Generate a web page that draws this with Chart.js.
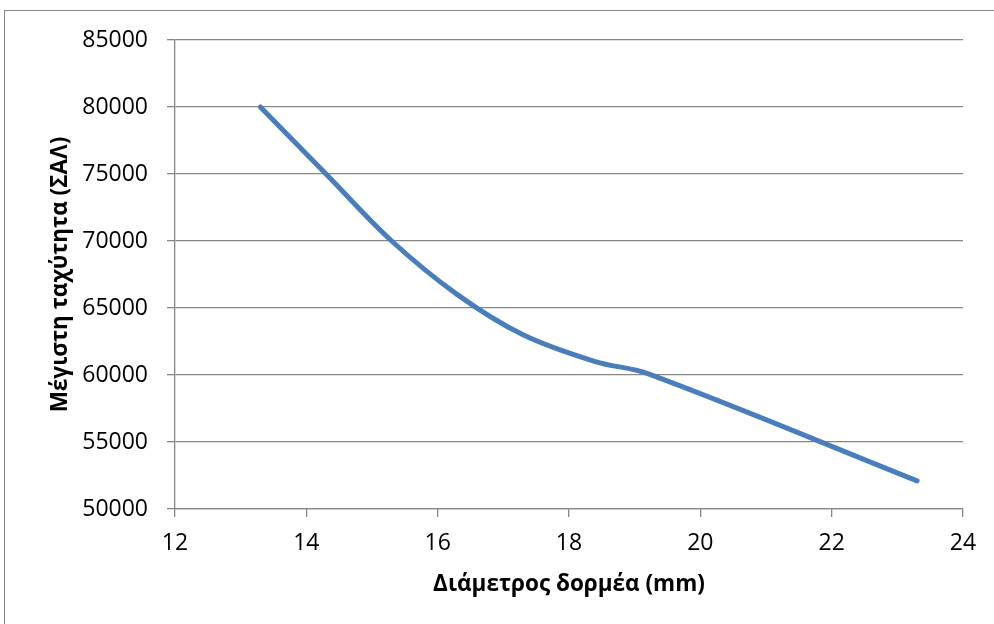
<!DOCTYPE html>
<html>
<head>
<meta charset="utf-8">
<script src="https://cdn.jsdelivr.net/npm/chart.js@4.4.1/dist/chart.umd.min.js"></script>
<style>
  html, body { margin: 0; padding: 0; background: #ffffff; }
  #frame {
    position: absolute; left: 4px; top: 10px; width: 1200px; height: 800px;
    border-left: 1px solid #868686; border-top: 1px solid #868686;
  }
  #speedChart { position: absolute; left: 0; top: 0; }
</style>
</head>
<body>
<div id="frame"></div>
<canvas id="speedChart" width="994" height="624"></canvas>
<script>
// rotor diameter (mm) and max speed (rpm)
const diameters = [13.3, 14.3, 15.3, 16.3, 17.3, 18.4, 19.2, 23.3];
const maxSpeeds = [80000, 75000, 70000, 66000, 63000, 61000, 60100, 52100];

const xTicks = [12, 14, 16, 18, 20, 22, 24];
const yTicks = [50000, 55000, 60000, 65000, 70000, 75000, 80000, 85000];

const xTitle = 'Διάμετρος δορμέα (mm)';
const yTitle = 'Μέγιστη ταχύτητα (ΣΑΛ)';

const gridColor = '#868686';
const tickFont = { family: "'Open Sans', sans-serif", size: 23 };
const titleFont = { family: "'Open Sans', sans-serif", size: 22.5, weight: 'bold' };

const points = diameters.map((d, i) => ({ x: d, y: maxSpeeds[i] }));

const ctx = document.getElementById('speedChart').getContext('2d');
window.speedChart = new Chart(ctx, {
    type: 'scatter',
    data: {
        datasets: [{
            label: 'Max speed',
            data: points,
            showLine: true,
            borderColor: '#4a7ebb',
            borderWidth: 5,
            borderCapStyle: 'round',
            borderJoinStyle: 'round',
            tension: 0.35,
            pointRadius: 0,
            fill: false
        }]
    },
    options: {
        responsive: false,
        animation: false,
        layout: { padding: { left: 0, top: 40, right: 31, bottom: 0 } },
        plugins: {
            legend: { display: false },
            tooltip: { enabled: false }
        },
        scales: {
            x: {
                type: 'linear',
                min: xTicks[0],
                max: xTicks[xTicks.length - 1],
                afterBuildTicks: (scale) => { scale.ticks = xTicks.map(v => ({ value: v })); },
                afterFit: (scale) => { scale.height = 115; },
                grid: { drawOnChartArea: false, drawTicks: true, tickLength: 8, color: gridColor, lineWidth: 1.3 },
                border: { display: true, color: gridColor, width: 1.3 },
                ticks: { color: '#000000', font: tickFont, padding: 13, maxRotation: 0 },
                title: { display: true, text: xTitle, color: '#000000', font: titleFont, padding: { top: 0, bottom: 26 } }
            },
            y: {
                type: 'linear',
                min: yTicks[0],
                max: yTicks[yTicks.length - 1],
                afterBuildTicks: (scale) => { scale.ticks = yTicks.map(v => ({ value: v })); },
                afterFit: (scale) => { scale.width = 175; },
                grid: { drawOnChartArea: true, drawTicks: true, tickLength: 8, color: gridColor, lineWidth: 1.3 },
                border: { display: true, color: gridColor, width: 1.3 },
                ticks: { color: '#000000', font: tickFont, padding: 19, callback: (v) => String(v) },
                title: { display: true, text: yTitle, color: '#000000', font: titleFont, padding: { top: 47, bottom: 0 } }
            }
        }
    }
});
</script>
</body>
</html>
